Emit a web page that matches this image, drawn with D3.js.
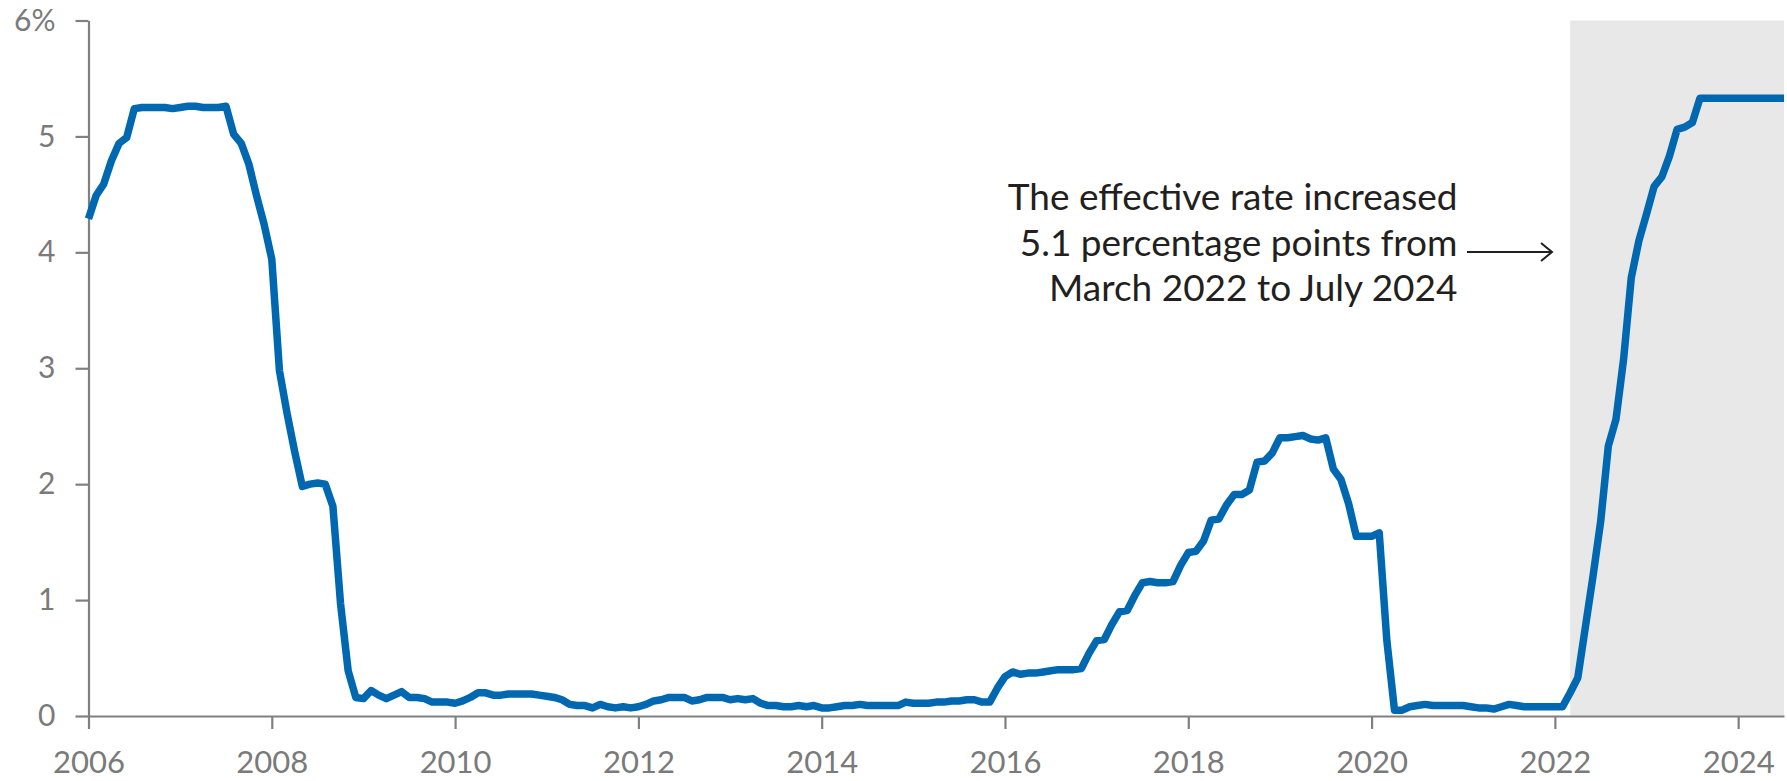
<!DOCTYPE html>
<html>
<head>
<meta charset="utf-8">
<script src="https://cdn.jsdelivr.net/npm/d3@7"></script>
<style>
  html, body { margin: 0; padding: 0; background: #fff; }
  svg { display: block; }
  text { font-family: Lato, "Open Sans", sans-serif; }
</style>
</head>
<body>
<svg id="chart" width="1787" height="781"></svg>
<script>
// ---- Data: effective federal funds rate, monthly, Jan 2006 - Jul 2024 ----
const startYear = 2006;
const rates = [
  // 2006
  4.29, 4.49, 4.59, 4.79, 4.94, 4.99, 5.24, 5.25, 5.25, 5.25, 5.25, 5.24,
  // 2007
  5.25, 5.26, 5.26, 5.25, 5.25, 5.25, 5.26, 5.02, 4.94, 4.76, 4.49, 4.24,
  // 2008
  3.94, 2.98, 2.61, 2.28, 1.98, 2.00, 2.01, 2.00, 1.81, 0.97, 0.39, 0.16,
  // 2009
  0.15, 0.22, 0.18, 0.15, 0.18, 0.21, 0.16, 0.16, 0.15, 0.12, 0.12, 0.12,
  // 2010
  0.11, 0.13, 0.16, 0.20, 0.20, 0.18, 0.18, 0.19, 0.19, 0.19, 0.19, 0.18,
  // 2011
  0.17, 0.16, 0.14, 0.10, 0.09, 0.09, 0.07, 0.10, 0.08, 0.07, 0.08, 0.07,
  // 2012
  0.08, 0.10, 0.13, 0.14, 0.16, 0.16, 0.16, 0.13, 0.14, 0.16, 0.16, 0.16,
  // 2013
  0.14, 0.15, 0.14, 0.15, 0.11, 0.09, 0.09, 0.08, 0.08, 0.09, 0.08, 0.09,
  // 2014
  0.07, 0.07, 0.08, 0.09, 0.09, 0.10, 0.09, 0.09, 0.09, 0.09, 0.09, 0.12,
  // 2015
  0.11, 0.11, 0.11, 0.12, 0.12, 0.13, 0.13, 0.14, 0.14, 0.12, 0.12, 0.24,
  // 2016
  0.34, 0.38, 0.36, 0.37, 0.37, 0.38, 0.39, 0.40, 0.40, 0.40, 0.41, 0.54,
  // 2017
  0.65, 0.66, 0.79, 0.90, 0.91, 1.04, 1.15, 1.16, 1.15, 1.15, 1.16, 1.30,
  // 2018
  1.41, 1.42, 1.51, 1.69, 1.70, 1.82, 1.91, 1.91, 1.95, 2.19, 2.20, 2.27,
  // 2019
  2.40, 2.40, 2.41, 2.42, 2.39, 2.38, 2.40, 2.13, 2.04, 1.83, 1.55, 1.55,
  // 2020
  1.55, 1.58, 0.65, 0.05, 0.05, 0.08, 0.09, 0.10, 0.09, 0.09, 0.09, 0.09,
  // 2021
  0.09, 0.08, 0.07, 0.07, 0.06, 0.08, 0.10, 0.09, 0.08, 0.08, 0.08, 0.08,
  // 2022
  0.08, 0.08, 0.20, 0.33, 0.77, 1.21, 1.68, 2.33, 2.56, 3.08, 3.78, 4.10,
  // 2023
  4.33, 4.57, 4.65, 4.83, 5.06, 5.08, 5.12, 5.33, 5.33, 5.33, 5.33, 5.33,
  // 2024
  5.33, 5.33, 5.33, 5.33, 5.33, 5.33, 5.33
];
const xTicks = [2006, 2008, 2010, 2012, 2014, 2016, 2018, 2020, 2022, 2024];
const yTicks = [0, 1, 2, 3, 4, 5, 6];
const yTickLabels = ["0", "1", "2", "3", "4", "5", "6%"];
const shadeRange = [2022 + 2 / 12, 2024 + 6 / 12]; // March 2022 - July 2024
const annotationLines = [
  "The effective rate increased",
  "5.1 percentage points from",
  "March 2022 to July 2024"
];

const series = rates.map((v, i) => ({ t: startYear + i / 12, v }));

// ---- Scales ----
const svg = d3.select("#chart");
const x = d3.scaleLinear().domain([2006, 2024.5]).range([88.5, 1784]);
const y = d3.scaleLinear().domain([0, 6]).range([716, 20.5]);

const axisColor = "#808080";
const labelColor = "#7a7a7a";

// Shaded region
svg.append("rect")
  .attr("x", x(shadeRange[0]))
  .attr("y", y(6))
  .attr("width", x(shadeRange[1]) - x(shadeRange[0]))
  .attr("height", y(0) - y(6))
  .attr("fill", "#e8e8e8");

// Y axis
const yAxis = svg.append("g")
  .attr("transform", `translate(${x(2006)},0)`)
  .call(d3.axisLeft(y).tickValues(yTicks).tickSize(13).tickSizeOuter(0).tickPadding(20)
    .tickFormat((d, i) => yTickLabels[i]));
yAxis.selectAll("path.domain").attr("stroke", axisColor).attr("stroke-width", 2.2);
yAxis.selectAll(".tick line").attr("stroke", axisColor).attr("stroke-width", 2.2);
yAxis.selectAll(".tick text").attr("fill", labelColor).style("font-size", "30px")
  .style("font-family", "Lato, sans-serif");

// X axis
const xAxis = svg.append("g")
  .attr("transform", `translate(0,${y(0)})`)
  .call(d3.axisBottom(x).tickValues(xTicks).tickSize(13).tickSizeOuter(0).tickPadding(22)
    .tickFormat(d3.format("d")));
xAxis.selectAll("path.domain").attr("stroke", axisColor).attr("stroke-width", 2.2);
xAxis.selectAll(".tick line").attr("stroke", axisColor).attr("stroke-width", 2.2);
xAxis.selectAll(".tick text").attr("fill", labelColor).style("font-size", "31px")
  .style("font-family", "Lato, sans-serif");

// Line
const line = d3.line().x(d => x(d.t)).y(d => y(d.v)).curve(d3.curveLinear);
svg.append("path")
  .datum(series)
  .attr("d", line)
  .attr("fill", "none")
  .attr("stroke", "#0067b1")
  .attr("stroke-width", 7.5)
  .attr("stroke-linejoin", "round")
  .attr("stroke-linecap", "butt");

// Annotation
const annX = 1457.5;
const ann = svg.append("text")
  .attr("x", annX)
  .attr("y", 210)
  .attr("text-anchor", "end")
  .attr("fill", "#231f20")
  .style("font-size", "37px")
  .style("font-family", "Lato, sans-serif");
annotationLines.forEach((t, i) => {
  ann.append("tspan").attr("x", annX).attr("dy", i === 0 ? 0 : 45.5).text(t);
});

// Arrow
const ay = 252;
svg.append("line")
  .attr("x1", 1467).attr("y1", ay).attr("x2", 1551).attr("y2", ay)
  .attr("stroke", "#231f20").attr("stroke-width", 2);
svg.append("path")
  .attr("d", `M${1541},${ay - 9} L${1552},${ay} L${1541},${ay + 9}`)
  .attr("fill", "none").attr("stroke", "#231f20").attr("stroke-width", 2);
</script>
</body>
</html>
